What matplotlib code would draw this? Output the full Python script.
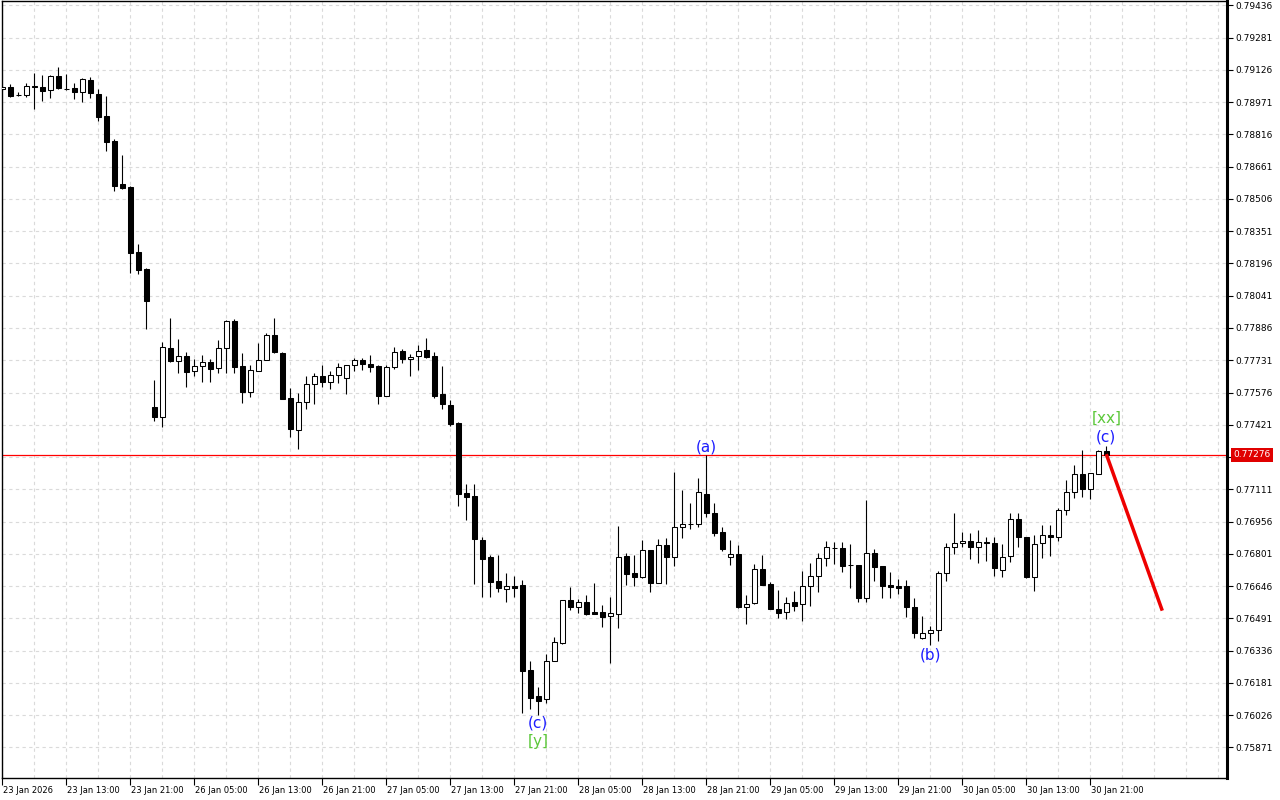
#!/usr/bin/env python3
"""
Hourly candlestick chart (MT4 style) with Elliott wave marks and a red forecast leg.
"""

import numpy as np
import matplotlib
matplotlib.use('Agg')
import matplotlib.pyplot as plt
import matplotlib.transforms as mtransforms

# === Figure ===
WIDTH, HEIGHT = 1280, 800
DPI = 100

# === Colours ===
COLOR_GRID = '#dadada'
COLOR_WAVE = '#1c1cff'     # (a) (b) (c)
COLOR_DEGREE = '#5cc83a'   # [y] [xx]
COLOR_PRICE = '#e00000'

# === Candles (one per hour, 23 Jan 2026 05:00 .. 30 Jan 23:00) ===
opens = [
    0.79034, 0.79043, 0.79006, 0.79004, 0.79049, 0.79043, 0.79028, 0.79097, 0.79036, 0.79038,
    0.79019, 0.79078, 0.79010, 0.78905, 0.78785, 0.78578, 0.78564, 0.78251, 0.78170, 0.77507,
    0.77460, 0.77789, 0.77729, 0.77752, 0.77678, 0.77704, 0.77723, 0.77692, 0.77789, 0.77920,
    0.77704, 0.77577, 0.77681, 0.77731, 0.77852, 0.77764, 0.77548, 0.77395, 0.77529, 0.77616,
    0.77655, 0.77628, 0.77660, 0.77644, 0.77707, 0.77732, 0.77713, 0.77704, 0.77561, 0.77697,
    0.77776, 0.77736, 0.77752, 0.77780, 0.77752, 0.77568, 0.77516, 0.77431, 0.77092, 0.77079,
    0.76868, 0.76787, 0.76671, 0.76634, 0.76646, 0.76651, 0.76243, 0.76118, 0.76102, 0.76286,
    0.76374, 0.76579, 0.76544, 0.76568, 0.76522, 0.76522, 0.76501, 0.76512, 0.76791, 0.76709,
    0.76688, 0.76820, 0.76662, 0.76843, 0.76787, 0.76929, 0.76943, 0.76943, 0.77089, 0.76996,
    0.76905, 0.76787, 0.76800, 0.76546, 0.76563, 0.76727, 0.76655, 0.76535, 0.76520, 0.76568,
    0.76559, 0.76646, 0.76695, 0.76780, 0.76829, 0.76828, 0.76746, 0.76747, 0.76587, 0.76804,
    0.76743, 0.76651, 0.76646, 0.76645, 0.76544, 0.76395, 0.76422, 0.76435, 0.76708, 0.76832,
    0.76852, 0.76863, 0.76835, 0.76855, 0.76853, 0.76723, 0.76791, 0.76968, 0.76883, 0.76691,
    0.76852, 0.76892, 0.76881, 0.77012, 0.77097, 0.77183, 0.77113, 0.77185, 0.77297,
]
highs = [
    0.79049, 0.79057, 0.79020, 0.79062, 0.79110, 0.79102, 0.79102, 0.79142, 0.79106, 0.79062,
    0.79086, 0.79091, 0.79033, 0.79001, 0.78793, 0.78717, 0.78566, 0.78290, 0.78174, 0.77636,
    0.77817, 0.77933, 0.77832, 0.77772, 0.77736, 0.77756, 0.77736, 0.77828, 0.77924, 0.77929,
    0.77764, 0.77708, 0.77813, 0.77861, 0.77933, 0.77772, 0.77596, 0.77572, 0.77655, 0.77668,
    0.77708, 0.77681, 0.77719, 0.77709, 0.77740, 0.77743, 0.77756, 0.77708, 0.77708, 0.77793,
    0.77784, 0.77761, 0.77804, 0.77837, 0.77772, 0.77704, 0.77540, 0.77436, 0.77137, 0.77137,
    0.76883, 0.76795, 0.76795, 0.76710, 0.76695, 0.76675, 0.76286, 0.76160, 0.76320, 0.76403,
    0.76580, 0.76643, 0.76583, 0.76603, 0.76660, 0.76555, 0.76595, 0.76935, 0.76804, 0.76795,
    0.76868, 0.76821, 0.76872, 0.76876, 0.77196, 0.77108, 0.77044, 0.77164, 0.77276, 0.77044,
    0.76931, 0.76868, 0.76843, 0.76603, 0.76751, 0.76794, 0.76667, 0.76627, 0.76592, 0.76622,
    0.76719, 0.76756, 0.76804, 0.76863, 0.76856, 0.76856, 0.76848, 0.76748, 0.77060, 0.76823,
    0.76744, 0.76714, 0.76680, 0.76675, 0.76587, 0.76502, 0.76454, 0.76719, 0.76855, 0.76996,
    0.76906, 0.76900, 0.76916, 0.76881, 0.76882, 0.76848, 0.76996, 0.76996, 0.76884, 0.76892,
    0.76940, 0.76940, 0.77020, 0.77156, 0.77228, 0.77300, 0.77189, 0.77298, 0.77319,
]
lows = [
    0.79030, 0.78997, 0.78999, 0.78995, 0.78937, 0.78978, 0.78993, 0.79036, 0.79030, 0.78985,
    0.78973, 0.78990, 0.78882, 0.78738, 0.78546, 0.78553, 0.78152, 0.78147, 0.77880, 0.77441,
    0.77412, 0.77721, 0.77668, 0.77604, 0.77657, 0.77628, 0.77628, 0.77668, 0.77668, 0.77668,
    0.77524, 0.77556, 0.77680, 0.77730, 0.77764, 0.77544, 0.77361, 0.77303, 0.77495, 0.77519,
    0.77604, 0.77593, 0.77623, 0.77568, 0.77680, 0.77684, 0.77676, 0.77519, 0.77560, 0.77690,
    0.77719, 0.77655, 0.77684, 0.77740, 0.77551, 0.77495, 0.77415, 0.77031, 0.76964, 0.76656,
    0.76595, 0.76595, 0.76616, 0.76571, 0.76595, 0.76038, 0.76054, 0.76027, 0.76086, 0.76285,
    0.76368, 0.76531, 0.76515, 0.76507, 0.76510, 0.76451, 0.76278, 0.76446, 0.76651, 0.76648,
    0.76687, 0.76619, 0.76660, 0.76656, 0.76743, 0.76879, 0.76920, 0.76931, 0.76977, 0.76887,
    0.76816, 0.76746, 0.76543, 0.76463, 0.76562, 0.76649, 0.76534, 0.76491, 0.76487, 0.76528,
    0.76478, 0.76552, 0.76619, 0.76744, 0.76752, 0.76715, 0.76635, 0.76571, 0.76571, 0.76672,
    0.76587, 0.76587, 0.76607, 0.76499, 0.76395, 0.76394, 0.76363, 0.76382, 0.76672, 0.76799,
    0.76835, 0.76775, 0.76756, 0.76767, 0.76696, 0.76688, 0.76763, 0.76835, 0.76683, 0.76624,
    0.76780, 0.76792, 0.76864, 0.76988, 0.77068, 0.77073, 0.77063, 0.77184, 0.77275,
]
closes = [
    0.79042, 0.79002, 0.79003, 0.79049, 0.79043, 0.79026, 0.79097, 0.79038, 0.79035, 0.79019,
    0.79082, 0.79014, 0.78901, 0.78781, 0.78570, 0.78560, 0.78248, 0.78166, 0.78017, 0.77460,
    0.77793, 0.77729, 0.77752, 0.77676, 0.77704, 0.77723, 0.77689, 0.77789, 0.77920, 0.77700,
    0.77580, 0.77683, 0.77731, 0.77852, 0.77769, 0.77546, 0.77399, 0.77529, 0.77616, 0.77655,
    0.77628, 0.77660, 0.77697, 0.77708, 0.77732, 0.77712, 0.77700, 0.77561, 0.77700, 0.77772,
    0.77736, 0.77748, 0.77777, 0.77748, 0.77559, 0.77519, 0.77425, 0.77089, 0.77076, 0.76874,
    0.76776, 0.76667, 0.76638, 0.76646, 0.76637, 0.76240, 0.76110, 0.76095, 0.76286, 0.76376,
    0.76579, 0.76544, 0.76568, 0.76512, 0.76512, 0.76499, 0.76517, 0.76786, 0.76704, 0.76691,
    0.76820, 0.76662, 0.76842, 0.76787, 0.76929, 0.76943, 0.76944, 0.77097, 0.76996, 0.76903,
    0.76826, 0.76799, 0.76544, 0.76559, 0.76727, 0.76650, 0.76535, 0.76515, 0.76566, 0.76552,
    0.76646, 0.76695, 0.76780, 0.76832, 0.76830, 0.76743, 0.76746, 0.76587, 0.76804, 0.76739,
    0.76648, 0.76640, 0.76637, 0.76544, 0.76422, 0.76422, 0.76434, 0.76708, 0.76832, 0.76852,
    0.76863, 0.76835, 0.76856, 0.76855, 0.76735, 0.76784, 0.76968, 0.76881, 0.76691, 0.76848,
    0.76890, 0.76881, 0.77012, 0.77097, 0.77183, 0.77113, 0.77188, 0.77297, 0.77276,
]

# === Axis labels ===
time_labels = [
    '23 Jan 2026', '23 Jan 13:00', '23 Jan 21:00', '26 Jan 05:00', '26 Jan 13:00',
    '26 Jan 21:00', '27 Jan 05:00', '27 Jan 13:00', '27 Jan 21:00', '28 Jan 05:00',
    '28 Jan 13:00', '28 Jan 21:00', '29 Jan 05:00', '29 Jan 13:00', '29 Jan 21:00',
    '30 Jan 05:00', '30 Jan 13:00', '30 Jan 21:00',
]
price_ticks = [
    0.79436, 0.79281, 0.79126, 0.78971, 0.78816, 0.78661, 0.78506, 0.78351,
    0.78196, 0.78041, 0.77886, 0.77731, 0.77576, 0.77421, 0.77266, 0.77111,
    0.76956, 0.76801, 0.76646, 0.76491, 0.76336, 0.76181, 0.76026, 0.75871,
]
current_price = 0.77276

# === Forecast leg and wave marks ===
forecast_bar = [138, 145]
forecast_price = [0.77280, 0.76528]
wave_text = ['(a)', '(b)', '(c)', '[y]', '(c)', '[xx]']
wave_bar = [88, 116, 67, 67, 138, 138]
wave_price = [0.77314, 0.76315, 0.75988, 0.75897, 0.77362, 0.77454]
wave_color = [COLOR_WAVE, COLOR_WAVE, COLOR_WAVE, COLOR_DEGREE, COLOR_WAVE, COLOR_DEGREE]


def draw_candles(ax):
    o = np.array(opens)
    h = np.array(highs)
    l = np.array(lows)
    c = np.array(closes)
    x = np.arange(len(o))

    ax.vlines(x, l, h, color='black', linewidth=0.8, zorder=3)

    bull = c > o
    bottom = np.minimum(o, c)
    height = np.maximum(np.abs(c - o), 0.000012)
    face = np.where(bull, 'white', 'black')
    ax.bar(x, height, bottom=bottom, width=0.56, color=face,
           edgecolor='black', linewidth=0.75, zorder=4)


def main():
    fig = plt.figure(figsize=(WIDTH / DPI, HEIGHT / DPI), dpi=DPI)
    fig.patch.set_facecolor('white')
    ax = fig.add_axes([1.5 / WIDTH, 22 / HEIGHT, 1225.5 / WIDTH, 777 / HEIGHT])
    ax.set_facecolor('white')

    ax.set_xlim(-0.1, 153.09)
    ax.set_ylim(0.75724, 0.79457)

    # grid: every 4 bars vertically, every price tick horizontally
    ax.set_xticks(np.arange(0, 8 * len(time_labels), 8))
    ax.set_xticklabels(time_labels, ha='left', fontsize=6)
    ax.set_xticks(np.arange(0, 156, 4), minor=True)
    ax.grid(True, which='both', axis='x', color=COLOR_GRID,
            linestyle=(0, (3, 3)), linewidth=0.8)
    ax.grid(True, which='major', axis='y', color=COLOR_GRID,
            linestyle=(0, (3, 3)), linewidth=0.8)
    ax.set_axisbelow(True)

    ax.yaxis.tick_right()
    ax.set_yticks(price_ticks)
    ax.set_yticklabels(['' if abs(p - 0.77266) < 1e-6 else f'{p:.5f}'
                        for p in price_ticks], fontsize=6.5)

    ax.tick_params(axis='x', which='major', length=5, width=0.8, pad=1, colors='black')
    ax.tick_params(axis='x', which='minor', length=0)
    ax.tick_params(axis='y', length=4, width=0.8, pad=2, colors='black')
    for lbl in ax.get_xticklabels():
        lbl.set_transform(lbl.get_transform() +
                          mtransforms.ScaledTranslation(1 / DPI, 0, fig.dpi_scale_trans))

    for side in ['left', 'top', 'bottom']:
        ax.spines[side].set_linewidth(1.0)
        ax.spines[side].set_color('black')
    ax.spines['right'].set_linewidth(2.2)
    ax.spines['right'].set_color('black')

    draw_candles(ax)

    # bid line + price tag on the axis
    ax.axhline(current_price, color='#ff0000', linewidth=0.9, zorder=2.5)
    trans = mtransforms.blended_transform_factory(ax.transAxes, ax.transData)
    ax.annotate(f'{current_price:.5f}', xy=(1.0, current_price), xycoords=trans,
                xytext=(4.5, 0), textcoords='offset points',
                ha='left', va='center', color='white', fontsize=6.5,
                annotation_clip=False,
                bbox=dict(boxstyle='square,pad=0.25', fc=COLOR_PRICE, ec='none'))

    # forecast leg
    ax.plot(forecast_bar, forecast_price, color='#ee0000', linewidth=2.5,
            solid_capstyle='butt', zorder=6)

    # wave labels
    for txt, b, p, col in zip(wave_text, wave_bar, wave_price, wave_color):
        ax.text(b, p, txt, ha='center', va='center', color=col,
                fontsize=11, zorder=7)

    fig.savefig('out.png', dpi=DPI, facecolor='white')
    plt.close(fig)


if __name__ == '__main__':
    main()
